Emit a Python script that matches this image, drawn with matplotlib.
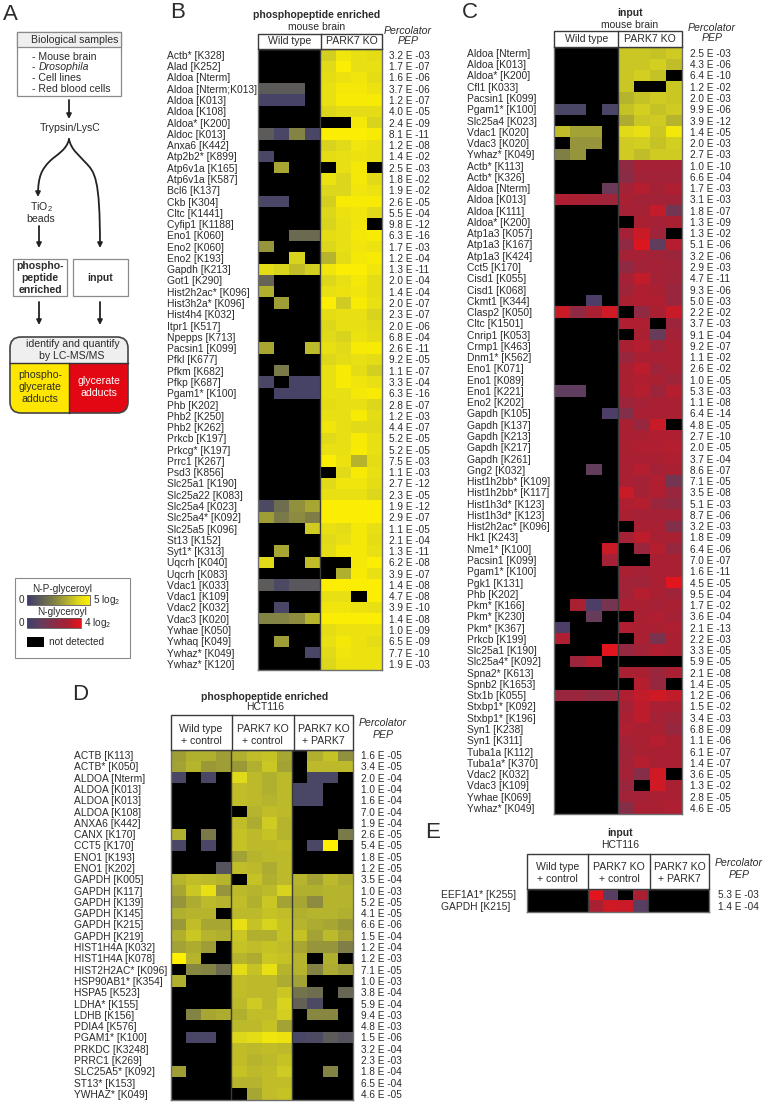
import matplotlib
matplotlib.use("Agg")
import matplotlib.pyplot as plt
import numpy as np
from matplotlib.cm import ScalarMappable
from matplotlib.colors import LinearSegmentedColormap, Normalize
from matplotlib.patches import FancyArrowPatch, FancyBboxPatch, Rectangle
from matplotlib.path import Path

plt.rcParams["font.family"] = ["Liberation Sans", "DejaVu Sans"]
plt.rcParams["mathtext.fontset"] = "custom"
plt.rcParams["mathtext.rm"] = "Liberation Sans"
plt.rcParams["mathtext.default"] = "regular"

W, H = 767, 1104
n = np.nan  # not detected
TXT = "#2b2b2b"

# panel B, phosphopeptide enriched, mouse brain
b_labels = ["Actb* [K328]", "Alad [K252]", "Aldoa [Nterm]", "Aldoa [Nterm;K013]", "Aldoa [K013]", "Aldoa [K108]",
            "Aldoa* [K200]", "Aldoc [K013]", "Anxa6 [K442]", "Atp2b2* [K899]", "Atp6v1a [K165]", "Atp6v1a [K587]",
            "Bcl6 [K137]", "Ckb [K304]", "Cltc [K1441]", "Cyfip1 [K1188]", "Eno1 [K060]", "Eno2 [K060]", "Eno2 [K193]",
            "Gapdh [K213]", "Got1 [K290]", "Hist2h2ac* [K096]", "Hist3h2a* [K096]", "Hist4h4 [K032]", "Itpr1 [K517]",
            "Npepps [K713]", "Pacsin1 [K099]", "Pfkl [K677]", "Pfkm [K682]", "Pfkp [K687]", "Pgam1* [K100]",
            "Phb [K202]", "Phb2 [K250]", "Phb2 [K262]", "Prkcb [K197]", "Prkcg* [K197]", "Prrc1 [K267]", "Psd3 [K856]",
            "Slc25a1 [K190]", "Slc25a22 [K083]", "Slc25a4 [K023]", "Slc25a4* [K092]", "Slc25a5 [K096]", "St13 [K152]",
            "Syt1* [K313]", "Uqcrh [K040]", "Uqcrh [K083]", "Vdac1 [K033]", "Vdac1 [K109]", "Vdac2 [K032]",
            "Vdac3 [K020]", "Ywhae [K050]", "Ywhaq [K049]", "Ywhaz* [K049]", "Ywhaz* [K120]"]
b_pep = ["3.2 E -03", "1.7 E -07", "1.6 E -06", "3.7 E -06", "1.2 E -07", "4.0 E -05", "2.4 E -09", "8.1 E -11",
         "1.2 E -08", "1.4 E -02", "2.5 E -03", "1.8 E -02", "1.9 E -02", "2.6 E -05", "5.5 E -04", "9.8 E -12",
         "6.3 E -16", "1.7 E -03", "1.2 E -04", "1.3 E -11", "2.0 E -04", "1.4 E -04", "2.0 E -07", "2.3 E -07",
         "2.0 E -06", "6.8 E -04", "2.6 E -11", "9.2 E -05", "1.1 E -07", "3.3 E -04", "6.3 E -16", "2.8 E -07",
         "1.2 E -03", "4.4 E -07", "5.2 E -05", "5.2 E -05", "7.5 E -03", "1.1 E -03", "2.7 E -12", "2.3 E -05",
         "1.9 E -12", "2.9 E -07", "1.1 E -05", "2.1 E -04", "1.3 E -11", "6.2 E -08", "3.9 E -07", "1.4 E -08",
         "4.7 E -08", "3.9 E -10", "1.4 E -08", "1.0 E -09", "6.5 E -09", "7.7 E -10", "1.9 E -03"]
b_values = [
    [n, n, n, n, 3.9, 4.6, 4.4, 4.3], [n, n, n, n, 4.2, 4.9, 4.4, 4.4], [n, n, n, n, 4.3, 4.5, 4.6, 4.3],
    [1, 1, 1, n, 4.4, 4.7, 4.7, 4.5], [.3, .3, .3, n, 4.4, 4.8, 4.8, 4.8], [n, n, n, n, 4.1, 4.3, 4.3, 4.3],
    [n, n, n, n, n, n, 4.7, 4.0], [1, .4, 2.2, .4, 4.9, 4.9, 4.9, 4.8], [n, n, n, n, 4.0, 4.2, 4.6, 4.4],
    [.4, n, n, n, 4.3, 4.4, 4.5, 4.4], [n, 3, n, n, n, 4.4, 4.7, n], [n, n, n, n, 4.5, 4.1, 4.7, 4.2],
    [n, n, n, n, 4.1, 4.1, 4.6, 4.5], [.4, .4, n, n, 3.9, 4.8, 4.8, 4.8], [n, n, n, n, 4.1, 4.5, 4.6, 4.2],
    [n, n, n, n, 4.0, 4.4, 4.6, n], [n, n, 1.5, 1.5, 4.3, 4.4, 4.7, 4.8], [2.6, n, n, n, 4.1, 4.4, 4.6, 4.5],
    [n, n, 4, n, 3.3, 4.3, 4.7, 4.8], [4.3, 4.0, 3.5, 3.9, 4.6, 4.9, 4.9, 4.6], [1.3, n, n, n, 4.1, 4.4, 4.7, 4.3],
    [3.2, n, n, n, 4.4, 4.5, 4.6, 4.3], [n, 2.8, n, n, 4.9, 3.8, 4.8, 4.4], [n, n, n, n, 4.3, 4.4, 4.4, 4.0],
    [n, n, n, n, 4.1, 4.4, 4.4, 4.2], [n, n, n, n, 4.2, 4.0, 4.5, 4.3], [3, n, n, 3.4, 4.4, 4.2, 4.8, 4.8],
    [n, n, n, n, 4.1, 4.3, 4.4, 4.3], [n, 2, n, n, 4.4, 4.8, 4.3, 3.9], [.4, n, .3, .3, 4.4, 4.8, 4.6, 4.4],
    [n, .3, .3, .3, 4.4, 4.4, 4.7, 4.8], [n, n, n, n, 4.3, 4.4, 4.4, 4.1], [n, n, n, n, 4.4, 4.4, 4.8, 4.3],
    [n, n, n, n, 4.6, 4.4, 4.2, 4.2], [n, n, n, n, 4.2, 4.4, 4.8, 4.4], [n, n, n, n, 4.4, 4.4, 4.8, 4.4],
    [n, n, n, n, 4.9, 4.5, 3.3, 4.3], [n, n, n, n, n, 4.2, 4.8, 4.4], [n, n, n, n, 4.2, 4.6, 4.6, 4.3],
    [n, n, n, n, 4.4, 4.4, 4.4, 4.1], [.5, 1.6, 2.5, 3.0, 4.9, 4.9, 4.9, 4.9], [2.8, 2.0, 2.4, 2.1, 4.9, 4.9, 4.9, 4.9],
    [n, n, n, 3.8, 4.4, 4.3, 4.7, 4.4], [n, n, n, n, 4.2, 4.4, 4.7, 4.3], [n, 3, n, n, 4.3, 4.7, 4.7, 4.4],
    [4.2, n, n, 3.5, n, n, 4.7, 4.9], [n, n, n, n, n, 3.2, 4.8, 4.4], [1, .5, .9, .9, 4.9, 4.9, 4.9, 4.9],
    [n, n, n, n, 4.4, 4.4, n, 4.9], [n, .4, n, n, 4.6, 4.6, 4.5, 4.4], [2.2, 2.2, 2.4, 3.3, 4.9, 4.9, 4.9, 4.9],
    [n, n, n, n, 4.3, 4.5, 4.5, 4.5], [n, 2.8, n, n, 4.4, 4.7, 4.5, 4.3], [n, n, n, .4, 4.2, 4.6, 4.5, 4.5],
    [n, n, n, n, 4.1, 4.5, 4.5, 4.5],
]

# panel C, input, mouse brain (first block is N-P-glyceroyl, the rest N-glyceroyl)
c_yellow_labels = ["Aldoa [Nterm]", "Aldoa [K013]", "Aldoa* [K200]", "Cfl1 [K033]", "Pacsin1 [K099]", "Pgam1* [K100]",
                   "Slc25a4 [K023]", "Vdac1 [K020]", "Vdac3 [K020]", "Ywhaz* [K049]"]
c_red_labels = ["Actb* [K113]", "Actb* [K326]", "Aldoa [Nterm]", "Aldoa [K013]", "Aldoa [K111]", "Aldoa* [K200]",
                "Atp1a3 [K057]", "Atp1a3 [K167]", "Atp1a3 [K424]", "Cct5 [K170]", "Cisd1 [K055]", "Cisd1 [K068]",
                "Ckmt1 [K344]", "Clasp2 [K050]", "Cltc [K1501]", "Cnrip1 [K053]", "Crmp1 [K463]", "Dnm1* [K562]",
                "Eno1 [K071]", "Eno1 [K089]", "Eno1 [K221]", "Eno2 [K202]", "Gapdh [K105]", "Gapdh [K137]",
                "Gapdh [K213]", "Gapdh [K217]", "Gapdh [K261]", "Gng2 [K032]", "Hist1h2bb* [K109]", "Hist1h2bb* [K117]",
                "Hist1h3d* [K123]", "Hist1h3d* [K123]", "Hist2h2ac* [K096]", "Hk1 [K243]", "Nme1* [K100]",
                "Pacsin1 [K099]", "Pgam1* [K100]", "Pgk1 [K131]", "Phb [K202]", "Pkm* [K166]", "Pkm* [K230]",
                "Pkm* [K367]", "Prkcb [K199]", "Slc25a1 [K190]", "Slc25a4* [K092]", "Spna2* [K613]", "Spnb2 [K1653]",
                "Stx1b [K055]", "Stxbp1* [K092]", "Stxbp1* [K196]", "Syn1 [K238]", "Syn1 [K311]", "Tuba1a [K112]",
                "Tuba1a* [K370]", "Vdac2 [K032]", "Vdac3 [K109]", "Ywhae [K069]", "Ywhaz* [K049]"]
c_pep = ["2.5 E -03", "4.3 E -06", "6.4 E -10", "1.2 E -02", "2.0 E -03", "9.9 E -06", "3.9 E -12", "1.4 E -05",
         "2.0 E -03", "2.7 E -03", "1.0 E -10", "6.6 E -04", "1.7 E -03", "3.1 E -03", "1.8 E -07", "1.3 E -09",
         "1.3 E -02", "5.1 E -06", "3.2 E -06", "2.9 E -03", "4.7 E -11", "9.3 E -06", "5.0 E -03", "2.2 E -02",
         "3.7 E -03", "9.1 E -04", "9.2 E -07", "1.1 E -02", "2.6 E -02", "1.0 E -05", "5.3 E -03", "1.1 E -08",
         "6.4 E -14", "4.8 E -05", "2.7 E -10", "2.0 E -05", "3.7 E -04", "8.6 E -07", "7.1 E -05", "3.5 E -08",
         "5.1 E -03", "8.7 E -06", "3.2 E -03", "1.8 E -09", "6.4 E -06", "7.0 E -07", "1.6 E -11", "4.5 E -05",
         "9.5 E -04", "1.7 E -02", "3.6 E -04", "2.1 E -13", "2.2 E -03", "3.3 E -05", "5.9 E -05", "2.1 E -08",
         "1.4 E -05", "1.2 E -06", "1.5 E -02", "3.4 E -03", "6.8 E -09", "1.1 E -06", "6.1 E -07", "1.4 E -07",
         "3.6 E -05", "1.3 E -02", "2.8 E -05", "4.6 E -05"]
c_yellow_values = [
    [n, n, n, n, 3.7, 3.7, 3.6, 3.8], [n, n, n, n, 3.7, 3.7, 3.9, 3.5], [n, n, n, n, 3.7, 3.9, 3.6, n],
    [n, n, n, n, 3.7, n, n, 3.7], [n, n, n, n, 3.3, 3.6, 3.8, 3.7], [.4, .4, n, .4, 3.6, 3.9, 3.6, 3.8],
    [n, n, n, n, 3.1, 3.7, 3.8, 3.3], [3.5, 2.9, 2.9, n, 4.2, 4.4, 3.7, 4.7], [n, 2.6, 2.6, n, 3.8, 3.9, 3.6, 3.9],
    [2.1, 2.6, n, n, 3.8, 3.5, 3.8, 3.8],
]
c_red_values = [
    [n, n, n, n, 2.2, 2.9, 2.9, 2.9], [n, n, n, n, 2.0, 2.8, 2.8, 2.8], [n, n, n, 1.2, 2.9, 3.2, 2.9, 3.1],
    [3.1, 3.0, 2.9, 2.7, 3.0, 2.8, 2.8, 2.8], [n, n, n, n, 2.9, 2.9, 3.4, 1.4], [n, n, n, n, n, 3.0, 2.9, 3.0],
    [n, n, n, n, 2.9, 3.5, 2.7, n], [n, n, n, n, 2.2, 3.8, .9, 3.2], [n, n, n, n, 2.9, 2.9, 2.8, 2.6],
    [n, n, n, n, 2.2, 2.8, 2.9, 2.8], [n, n, n, n, 2.9, 3.4, 2.9, 2.7], [n, n, n, n, 2.7, 3.1, 3.0, 2.5],
    [n, n, .4, n, 3.0, 3.1, 3.1, 2.5], [3.5, 2.2, 3.0, 3.6, n, 2.2, 3.0, 3.5], [n, n, n, n, 3.1, 3.1, n, 2.6],
    [n, n, n, n, n, 3.0, 1.1, 2.9], [n, n, n, n, 3.0, 3.2, 2.7, 3.0], [n, n, n, n, 2.5, 3.0, 3.0, 3.0],
    [n, n, n, n, 3.0, 3.3, 2.7, 3.0], [n, n, n, n, 3.0, 3.1, 3.0, 2.7], [.9, .9, n, n, 3.0, 3.2, 2.6, 3.2],
    [n, n, n, n, 2.6, 2.9, 3.0, 3.0], [n, n, n, .4, 1.8, 3.0, 3.0, 3.0], [n, n, n, n, 3.0, 2.4, 3.5, n],
    [n, n, n, n, 3.0, 3.0, 3.1, 3.1], [n, n, n, n, 3.0, 3.1, 3.1, 3.2], [n, n, n, n, 3.0, 3.0, 3.0, 3.1],
    [n, n, 1.0, n, 3.0, 3.2, 2.9, 3.0], [n, n, n, n, 3.0, 2.9, 3.1, 1.4], [n, n, n, n, 3.5, 2.9, 3.1, 2.5],
    [n, n, n, n, 3.1, 3.2, 2.5, 2.2], [n, n, n, n, 3.0, 2.9, 2.9, 2.9], [n, n, n, n, n, 3.0, 3.0, 1.8],
    [n, n, n, n, 2.9, 3.3, 3.0, 3.0], [n, n, n, 3.5, n, 2.5, 3.2, 2.4], [n, n, n, 2.9, n, n, 3.0, 3.0],
    [n, n, n, n, 3.0, 2.9, 3.0, 3.0], [n, n, n, n, 2.8, 2.7, 3.0, 3.9], [n, n, n, n, 2.8, 3.2, 3.0, 2.7],
    [n, 3.0, .4, 1.5, 3.0, 3.0, 2.9, 3.0], [n, n, 1.1, n, n, 3.0, 3.1, 2.9], [.4, n, n, n, 3.1, 3.0, 3.0, 3.1],
    [3.1, n, n, n, n, 3.0, 1.6, 3.0], [n, n, n, 3.9, 2.3, 2.8, 3.1, 3.0], [n, 2.6, 3.2, n, n, n, n, n],
    [n, n, n, n, 3.0, 3.0, 2.5, 3.0], [n, n, n, n, n, 3.2, 2.4, n], [2.5, 2.5, 2.2, 2.4, 3.1, 3.4, 3.6, 3.4],
    [n, n, n, n, 2.9, 3.3, 3.0, 3.0], [n, n, n, n, 3.0, 3.3, 2.9, 2.7], [n, n, n, n, 3.1, 3.0, 3.0, 2.4],
    [n, n, n, n, 2.9, 3.0, 3.2, 3.0], [n, n, n, n, 2.7, 3.0, 3.0, 3.0], [n, n, n, n, 2.8, 3.2, 3.0, 3.0],
    [n, n, n, n, 2.9, 1.9, 3.6, n], [n, n, n, n, 2.5, n, 3.6, 3.0], [n, n, n, n, 2.8, 2.9, 3.0, 3.0],
    [n, n, n, n, 1.9, 3.0, 3.0, 3.1],
]

# panel D, phosphopeptide enriched, HCT116
d_labels = ["ACTB [K113]", "ACTB* [K050]", "ALDOA [Nterm]", "ALDOA [K013]", "ALDOA [K013]", "ALDOA [K108]",
            "ANXA6 [K442]", "CANX [K170]", "CCT5 [K170]", "ENO1 [K193]", "ENO1 [K202]", "GAPDH [K005]", "GAPDH [K117]",
            "GAPDH [K139]", "GAPDH [K145]", "GAPDH [K215]", "GAPDH [K219]", "HIST1H4A [K032]", "HIST1H4A [K078]",
            "HIST2H2AC* [K096]", "HSP90AB1* [K354]", "HSPA5 [K523]", "LDHA* [K155]", "LDHB [K156]", "PDIA4 [K576]",
            "PGAM1* [K100]", "PRKDC [K3248]", "PRRC1 [K269]", "SLC25A5* [K092]", "ST13* [K153]", "YWHAZ* [K049]"]
d_pep = ["1.6 E -05", "3.4 E -05", "2.0 E -04", "1.0 E -04", "1.6 E -04", "7.0 E -04", "1.9 E -04", "2.6 E -05",
         "5.4 E -05", "1.8 E -05", "1.2 E -05", "3.5 E -04", "1.0 E -03", "5.2 E -05", "4.1 E -05", "6.6 E -06",
         "1.5 E -04", "1.2 E -04", "1.2 E -03", "7.1 E -05", "1.0 E -03", "3.8 E -04", "5.9 E -04", "9.4 E -03",
         "4.8 E -03", "1.5 E -06", "3.2 E -04", "2.3 E -03", "1.8 E -04", "6.5 E -04", "4.6 E -05"]
d_values = [
    [2.8, 3.2, 3.2, 2.8, 3.2, 3.5, 3.6, 3.0, n, 3.2, 3.6, 2.5],
    [2.9, 3.3, 2.7, 2.8, 2.7, 3.2, 3.7, 2.9, n, 3.4, 3.4, 3.4],
    [.4, n, .4, n, 4.2, 3.4, 3.2, 3.4, n, .4, .4, n],
    [n, n, n, n, 3.5, 3.4, 3.2, 3.4, .4, .4, n, n],
    [n, n, n, n, 3.5, 3.4, 3.3, 3.4, .4, .4, n, n],
    [n, n, n, n, n, 3.3, 3.5, 3.4, n, n, n, n],
    [n, n, n, n, 3.5, 3.1, 3.8, 3.3, n, n, n, n],
    [3.2, n, 2.0, n, 3.6, 3.4, 3.6, 3.3, n, n, n, 2.0],
    [.4, n, .4, n, 3.6, 3.4, 3.4, 3.5, n, .4, 5.0, n],
    [n, n, n, n, 2.9, 3.3, 3.4, 3.4, n, n, n, n],
    [n, n, n, .8, 3.5, 3.4, 3.1, 3.4, n, n, n, n],
    [3.3, 3.5, 3.4, 3.3, n, 3.6, 3.2, 3.4, 3.3, 2.9, 3.4, 3.1],
    [3.0, 3.7, 4.4, 2.6, 3.4, 3.3, 3.4, 4.0, 3.2, 3.2, 3.3, 3.3],
    [2.6, 3.1, 3.4, 3.3, 3.5, 3.2, 3.7, 2.9, 3.0, 2.4, 3.3, 3.3],
    [3.2, 3.3, 3.3, n, 3.4, 3.4, 3.6, 3.5, 3.2, 3.3, 3.3, 3.2],
    [2.7, 3.5, 3.0, 3.0, 4.4, 3.6, 4.0, 3.6, 3.3, 3.1, 3.0, 2.7],
    [3.2, 3.7, 3.3, 3.2, 3.7, 3.2, 3.2, 3.6, 3.6, 2.9, 3.4, 3.0],
    [2.9, 3.1, 2.8, n, 3.6, 3.5, 3.6, 3.5, 3.0, 2.6, 2.6, 2.1],
    [5.0, 3.3, n, n, 3.3, 3.1, 3.7, 3.6, 3.3, n, 3.2, n],
    [n, 2.3, 2.2, 1.5, 4.3, 3.6, 4.4, 3.3, 3.3, 2.2, 3.1, 2.8],
    [3.2, n, n, n, 3.5, 3.4, 3.4, 3.1, 2.9, n, n, n],
    [n, n, n, n, 3.5, 3.4, 3.4, 3.7, 1.8, 1.6, n, 1.4],
    [n, n, n, n, 3.4, 3.8, 3.4, 4.0, 1.2, .5, n, n],
    [n, 2.2, 3.0, 3.1, 3.2, 3.5, 3.5, 3.9, n, 2.3, 2.3, n],
    [n, n, n, n, 3.4, 3.4, 3.6, 2.9, n, n, n, n],
    [n, .4, .4, n, 4.1, 4.3, 4.6, 4.5, .4, .5, 1.0, .8],
    [n, n, n, n, 3.5, 3.4, 3.5, 3.4, n, n, n, n],
    [n, n, n, n, 3.5, 3.3, 3.4, 3.6, n, n, n, n],
    [2.8, n, n, n, 3.6, 3.4, 3.5, 3.8, n, n, 2.2, n],
    [n, n, n, n, 3.3, 3.3, 3.5, 3.5, n, n, n, n],
    [n, n, n, n, n, 3.0, 3.5, 3.6, n, n, n, n],
]

# panel E, input, HCT116
e_labels = ["EEF1A1* [K255]", "GAPDH [K215]"]
e_pep = ["5.3 E -03", "1.4 E -04"]
e_values = [
    [n, n, n, n, 3.9, .7, n, 3.0, n, n, n, n],
    [n, n, n, n, 3.0, 3.6, 3.5, .7, n, n, n, n],
]

cmap_np = LinearSegmentedColormap.from_list(
    "np_glyceroyl", ["#3c3a6c", "#5d5a5a", "#7a7a48", "#a8a632", "#d8d41e", "#fff000"])
cmap_n = LinearSegmentedColormap.from_list(
    "n_glyceroyl", ["#3f3f6e", "#633d5c", "#8a2c46", "#a82033", "#e8141c"])
norm_np = Normalize(0, 5)
norm_n = Normalize(0, 4)

fig = plt.figure(figsize=(W / 100, H / 100), dpi=100)

# overlay in pixel units for the flow chart, headers and captions
pix = fig.add_axes([0, 0, 1, 1], zorder=5)
pix.set_xlim(0, W)
pix.set_ylim(H, 0)
pix.axis("off")


def add_heat(x0, y0, x1, y1, blocks, labels, pep, label_x, pep_x, groups):
    ax = fig.add_axes([x0 / W, 1 - y1 / H, (x1 - x0) / W, (y1 - y0) / H])
    ax.set_facecolor("black")
    row = 0
    for vals, cmap, norm in blocks:
        arr = np.array(vals, dtype=float)
        ys = np.arange(row, row + arr.shape[0] + 1)
        xs = np.arange(arr.shape[1] + 1)
        ax.pcolormesh(xs, ys, np.ma.masked_invalid(arr), cmap=cmap, norm=norm)
        row += arr.shape[0]
    ncols = arr.shape[1]
    ax.set_xlim(0, ncols)
    ax.set_ylim(row, 0)
    ax.set_xticks([])
    for g in groups:
        ax.axvline(g, color="#3a3a3a", lw=1.0)
    for s in ax.spines.values():
        s.set_color("#6e6e6e")
        s.set_linewidth(1.0)
    ticks = np.arange(row) + 0.5
    ax.set_yticks(ticks)
    ax.set_yticklabels(labels, ha="left", fontsize=7.4, color=TXT)
    ax.tick_params(axis="y", length=0, pad=(x0 - label_x) * 0.72)
    ax2 = ax.twinx()
    ax2.set_ylim(ax.get_ylim())
    ax2.set_yticks(ticks)
    ax2.set_yticklabels(pep, fontsize=7.2, color=TXT)
    ax2.tick_params(axis="y", length=0, pad=(pep_x - x1) * 0.72)
    for s in ax2.spines.values():
        s.set_visible(False)
    return ax


add_heat(258, 49.3, 382, 669.5, [(b_values, cmap_np, norm_np)], b_labels, b_pep, 167, 389, [4])
add_heat(554, 47.3, 682, 813.5, [(c_yellow_values, cmap_np, norm_np), (c_red_values, cmap_n, norm_n)],
         c_yellow_labels + c_red_labels, c_pep, 467, 690, [4])
add_heat(170.5, 749.5, 353, 1099.5, [(d_values, cmap_np, norm_np)], d_labels, d_pep, 74, 361.5, [4, 8])
add_heat(527, 888.5, 709, 911.5, [(e_values, cmap_n, norm_n)], e_labels, e_pep, 441, 718, [4, 8])


def t(x, y, s, size=7.5, ha="center", color=TXT, **kw):
    pix.text(x, y, s, fontsize=size, ha=ha, va="center", color=color, **kw)


def header(x0, x_mid, x1, y0, y1, names, text_ys):
    pix.add_patch(Rectangle((x0, y0), x1 - x0, y1 - y0, fc="white", ec="#3a3a3a", lw=1.0))
    edges = [x0] + x_mid + [x1]
    for xm in x_mid:
        pix.plot([xm, xm], [y0, y1], color="#3a3a3a", lw=1.0)
    for i, lines in enumerate(names):
        for line, yy in zip(lines, text_ys):
            t((edges[i] + edges[i + 1]) / 2, yy, line, size=7.6)


def percolator(x, y1, y2):
    t(x, y1, "Percolator", size=7.6, style="italic")
    t(x, y2, "PEP", size=7.6, style="italic")


# titles and headers
for x, y, s in [(3, 14, "A"), (170, 12, "B"), (462, 12, "C"), (72, 694, "D"), (425, 833, "E")]:
    t(x, y, s, size=16, ha="left")

t(317, 15.5, "phosphopeptide enriched", weight="bold")
t(317, 27, "mouse brain")
header(258, [321], 382, 34, 49.3, [["Wild type"], ["PARK7 KO"]], [41.5])
percolator(408, 31, 41)

t(630, 13, "input", weight="bold")
t(630, 24.5, "mouse brain")
header(554, [618.3], 682, 31, 47.3, [["Wild type"], ["PARK7 KO"]], [39])
percolator(712, 28, 38)

t(265, 696.5, "phosphopeptide enriched", weight="bold")
t(265, 707.5, "HCT116")
group_names = [["Wild type", "+ control"], ["PARK7 KO", "+ control"], ["PARK7 KO", "+ PARK7"]]
header(170.5, [231.7, 294], 353, 715, 749.5, group_names, [728.5, 741])
percolator(383, 723, 735)

t(620, 833, "input", weight="bold")
t(620, 845.5, "HCT116")
header(527, [588.3, 650], 709, 853.5, 888.5, group_names, [867, 879.5])
percolator(739, 863, 875)

# panel A flow chart
pix.add_patch(Rectangle((17, 32), 104, 64, fc="white", ec="#8a8a8a", lw=0.9))
pix.add_patch(Rectangle((17, 32), 104, 15, fc="#efefef", ec="#8a8a8a", lw=0.9))
t(75, 40, "Biological samples", size=7.6)
t(32, 56.5, "- Mouse brain", size=7.6, ha="left")
t(32, 67.5, "- ", size=7.6, ha="left")
t(38.5, 67.5, "Drosophila", size=7.6, ha="left", style="italic")
t(32, 78, "- Cell lines", size=7.6, ha="left")
t(32, 89, "- Red blood cells", size=7.6, ha="left")
t(70, 128, "Trypsin/LysC", size=7.6)
t(41, 207, "TiO$_2$", size=7.6)
t(41, 219, "beads", size=7.6)


def arrow(verts, codes=None):
    pix.add_patch(FancyArrowPatch(path=Path(verts, codes), arrowstyle="-|>", mutation_scale=7,
                                  lw=1.3, color="#222222", shrinkA=0, shrinkB=0))


C4 = Path.CURVE4
arrow([(69, 100), (69, 119)])
arrow([(69, 139), (67, 150), (56, 155), (50, 161), (42, 169), (38, 176), (38, 197)],
      [Path.MOVETO, C4, C4, C4, C4, C4, C4])
arrow([(69, 139), (71, 150), (80, 156), (85, 162), (95, 172), (100, 178), (100, 248)],
      [Path.MOVETO, C4, C4, C4, C4, C4, C4])
arrow([(39, 226), (39, 248)])
arrow([(39, 302), (39, 325)])
arrow([(100, 302), (100, 325)])

pix.add_patch(Rectangle((13, 259), 54, 37, fc="white", ec="#8a8a8a", lw=0.9))
pix.add_patch(Rectangle((73, 259), 55, 37, fc="white", ec="#8a8a8a", lw=0.9))
for yy, s in [(266, "phospho-"), (278, "peptide"), (290, "enriched")]:
    t(40, yy, s, size=7.6, weight="bold")
t(100.5, 278, "input", size=7.6, weight="bold")

frame = FancyBboxPatch((10, 337), 118, 76, boxstyle="round,pad=0,rounding_size=11", fc="#efefef", ec="none")
pix.add_patch(frame)
for x0, w, col in [(10, 58.5, "#ffe600"), (68.5, 59.5, "#e30613")]:
    r = Rectangle((x0, 363), w, 50, fc=col, ec="none")
    pix.add_patch(r)
    r.set_clip_path(frame)
pix.plot([10, 128], [363, 363], color="#333333", lw=1.0)
pix.plot([68.5, 68.5], [363, 413], color="#333333", lw=1.0)
pix.add_patch(FancyBboxPatch((10, 337), 118, 76, boxstyle="round,pad=0,rounding_size=11", fc="none", ec="#444444", lw=1.2))
t(73, 344, "identify and quantify", size=7.6)
t(72, 356, "by LC-MS/MS", size=7.6)
for yy, s in [(375, "phospho-"), (387, "glycerate"), (399, "adducts")]:
    t(40, yy, s, size=7.6)
for yy, s in [(381, "glycerate"), (393, "adducts")]:
    t(99, yy, s, size=7.6, color="white")

# colour legend
pix.add_patch(Rectangle((15, 578), 115, 80, fc="white", ec="#8a8a8a", lw=0.8))
t(62, 589, "N-P-glyceroyl", size=7.2)
t(62, 612, "N-glyceroyl", size=7.2)
t(21, 600, "0", size=7.2)
t(21, 623, "0", size=7.2)
t(93, 600, "5 log$_2$", size=7.2, ha="left")
t(84, 623, "4 log$_2$", size=7.2, ha="left")
for (x0, x1, yy, c_map, c_norm) in [(27, 90, 595, cmap_np, norm_np), (27, 81, 618, cmap_n, norm_n)]:
    cax = fig.add_axes([x0 / W, 1 - (yy + 10) / H, (x1 - x0) / W, 10 / H], zorder=6)
    fig.colorbar(ScalarMappable(norm=c_norm, cmap=c_map), cax=cax, orientation="horizontal")
    cax.set_xticks([])
    cax.minorticks_off()
    for s in cax.spines.values():
        s.set_color("#555555")
        s.set_linewidth(0.6)
pix.add_patch(Rectangle((27, 637), 17, 10, fc="black", ec="none"))
t(49, 642, "not detected", size=7.2, ha="left")

fig.savefig("out.png", dpi=100)
